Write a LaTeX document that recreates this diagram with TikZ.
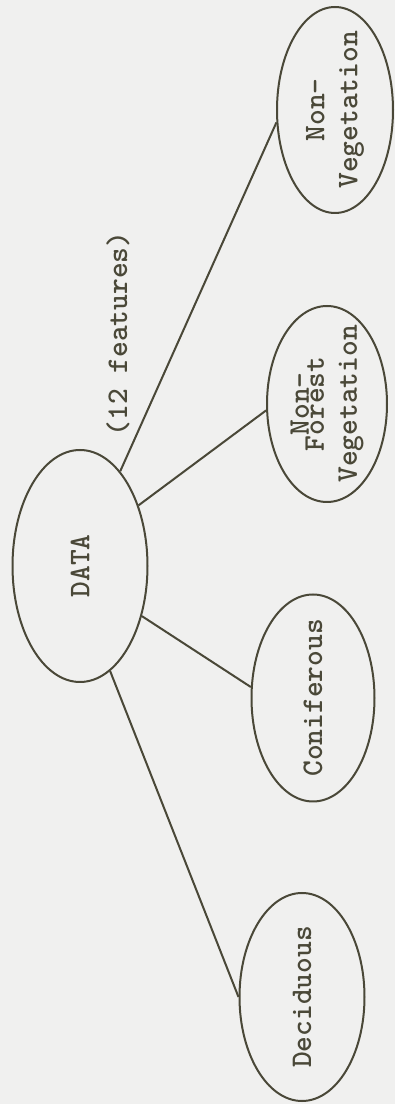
\documentclass[tikz,border=0pt]{standalone}
\usetikzlibrary{positioning,shapes.geometric}
\definecolor{ink}{RGB}{74,72,56}
\definecolor{paper}{RGB}{240,240,239}

\begin{document}
\begin{tikzpicture}[on grid,color=ink,line width=2pt,
                    every node/.style={font=\fontsize{30}{33}\selectfont\ttfamily\bfseries}]
  \tikzstyle{blob}=[ellipse,draw,rotate=90,align=center,inner sep=-15pt]

  \fill[paper] (0,0) rectangle (395pt,1104pt);
  \useasboundingbox (0,0) rectangle (395pt,1104pt);

  \node[blob,minimum width=232pt,minimum height=135pt] (data) at (80pt,538pt) {DATA};
  \node[rotate=90]  (features) [above right=232pt and 38pt of data]  {(12 features)};
  \node[blob,minimum width=208pt,minimum height=125pt] (decid)  [below right=431pt and 222pt of data] {Deciduous};
  \node[blob,minimum width=207pt,minimum height=123pt] (conif)  [below right=132pt and 233pt of data] {Coniferous};
  \node[blob,minimum width=196pt,minimum height=120pt] (nonfor) [above right=162pt and 247pt of data] {Non-\\[-18pt]Forest\\Vegetation};
  \node[blob,minimum width=206pt,minimum height=116pt] (nonveg) [above right=456pt and 255pt of data] {Non-\\Vegetation};

  \path (data.-23)    edge (nonveg.102)
        (data.-44.5)  edge (nonfor.96)
        (data.-129.4) edge (conif.80)
        (data.-164.6) edge (decid.90);
\end{tikzpicture}
\end{document}
